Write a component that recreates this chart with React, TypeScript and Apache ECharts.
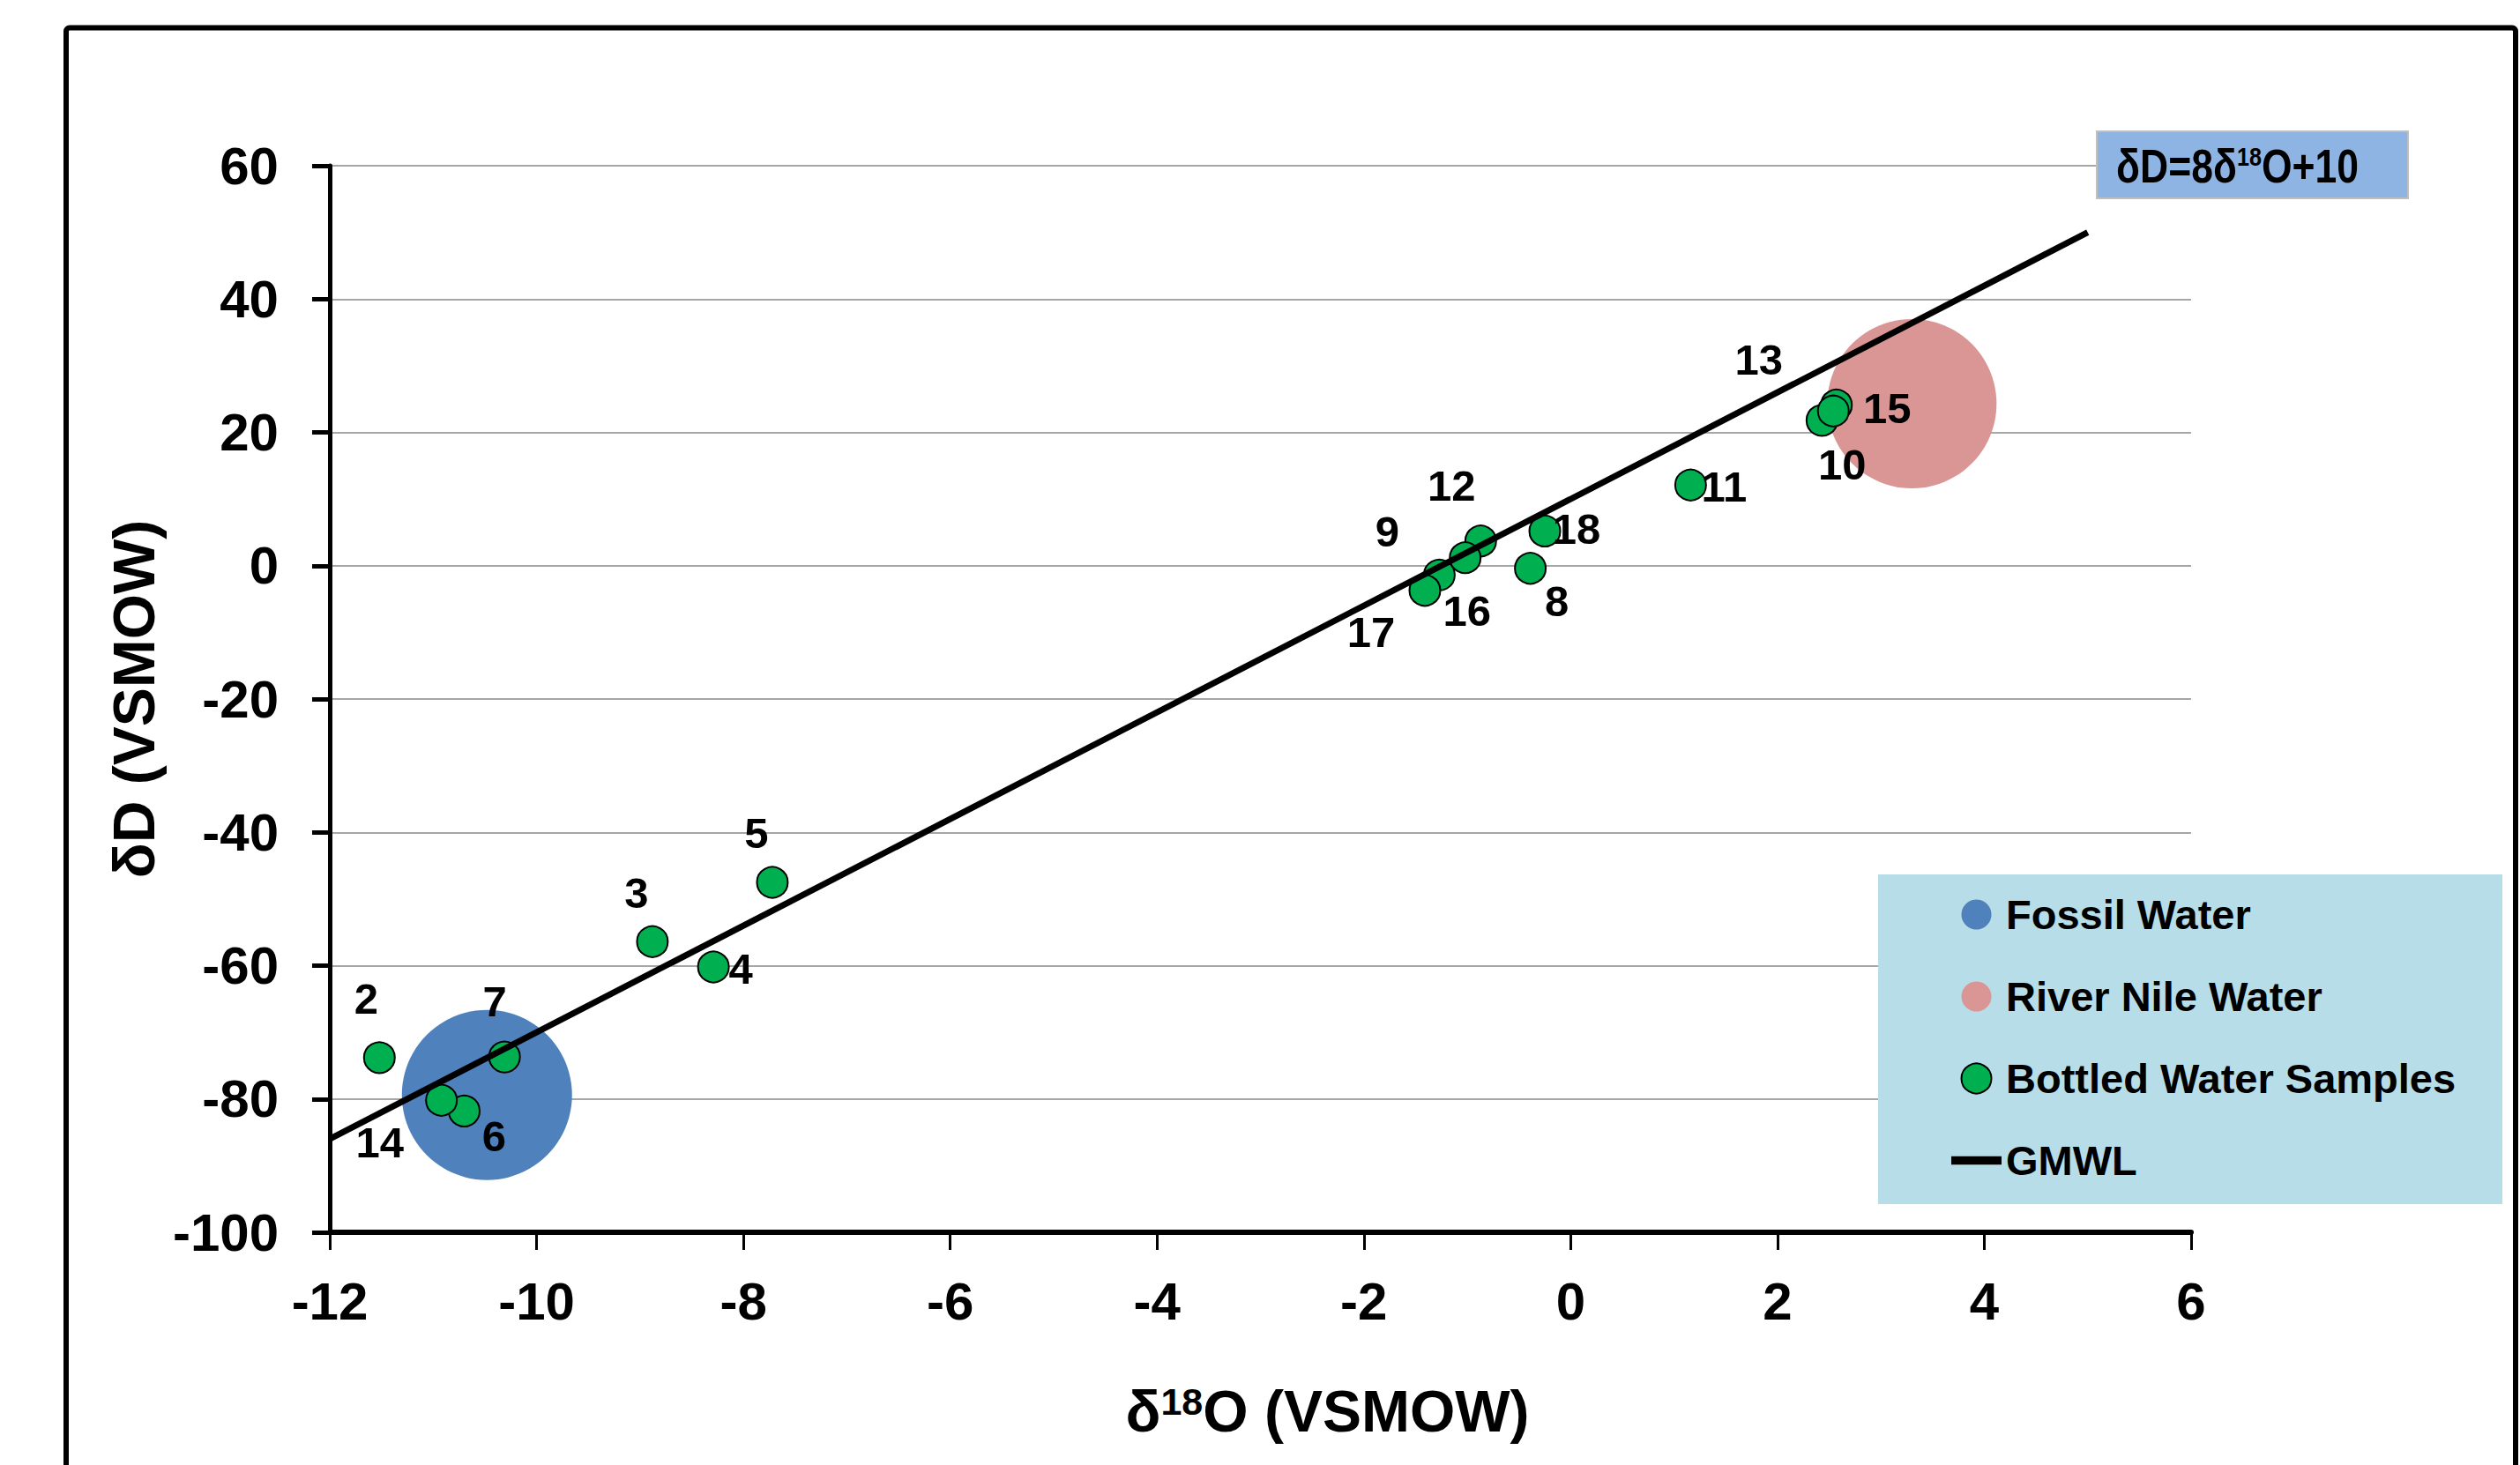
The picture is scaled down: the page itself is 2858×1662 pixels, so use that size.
import React, { useEffect, useRef } from "react";
import * as echarts from "echarts";

const FONT = "'Liberation Sans Narrow', 'Arial Narrow', 'Liberation Sans', Arial, sans-serif";

// Bottled water samples
const sampleIds = ["2", "3", "4", "5", "6", "7", "8", "9", "10", "11", "12", "13", "14", "15", "16", "17", "18"];
const d18OValues = [-11.52, -8.88, -8.29, -7.72, -10.7, -10.31, -0.39, -1.27, 2.43, 1.16, -0.87, 2.57, -10.92, 2.54, -1.02, -1.41, -0.25];
const dDValues = [-73.8, -56.4, -60.2, -47.5, -81.8, -73.7, -0.4, -1.4, 21.8, 12.1, 3.7, 24.1, -80.2, 23.2, 1.2, -3.7, 5.2];

// End members
const fossilWater = [[-10.48, -79.4]];
const nileWater = [[3.3, 24.3]];

// Global meteoric water line end points
const gmwlLine = [[-12, -86], [5, 50]];

// Axes
const xTickValues = [-12, -10, -8, -6, -4, -2, 0, 2, 4, 6];
const yTickValues = [-100, -80, -60, -40, -20, 0, 20, 40, 60];

const legendNames = ["Fossil Water", "River Nile Water", "Bottled Water Samples", "GMWL"];

// label placement (layout only): offset of each sample label from its marker centre
const labelOffsets: Record<string, [number, number]> = {
  "2": [-15, -67],
  "3": [-18, -55],
  "4": [31, 2],
  "5": [-18, -56],
  "6": [34, 29],
  "7": [-11, -63],
  "8": [30, 37],
  "9": [-59, -49],
  "10": [23, 50],
  "11": [38, 2],
  "12": [-33, -63],
  "13": [-88, -51],
  "14": [-70, 48],
  "15": [61, -3],
  "16": [2, 60],
  "17": [-61, 47],
  "18": [36, -2],
};

export default function App() {
  const ref = useRef<HTMLDivElement>(null);
  useEffect(() => {
    if (!ref.current) return;
    const chart = echarts.init(ref.current, undefined, { renderer: "svg" });
    const step = (a: number[]) => a[1] - a[0];
    const bottled = sampleIds.map((id, i) => ({
      name: id,
      value: [d18OValues[i], dDValues[i]],
      label: { offset: labelOffsets[id] },
    }));
    const option: any = {
      animation: false,
      backgroundColor: "#ffffff",
      textStyle: { fontFamily: FONT, fontWeight: "bold", color: "#000" },
      grid: { left: 374, top: 188, width: 2111, height: 1210, containLabel: false },
      xAxis: {
        type: "value",
        min: xTickValues[0],
        max: xTickValues[xTickValues.length - 1],
        interval: step(xTickValues),
        name: "δ{sup|18}O (VSMOW)",
        nameLocation: "middle",
        nameGap: 170,
        nameTextStyle: {
          fontFamily: FONT,
          fontWeight: "bold",
          fontSize: 66,
          color: "#000",
          padding: [0, 0, 0, 152],
          rich: {
            sup: { fontFamily: FONT, fontWeight: "bold", fontSize: 43, color: "#000", verticalAlign: "top" },
          },
        },
        axisLine: { show: true, onZero: false, lineStyle: { color: "#000", width: 6 } },
        axisTick: { show: true, length: 20, lineStyle: { color: "#000", width: 3 } },
        axisLabel: { fontFamily: FONT, fontWeight: "bold", fontSize: 60, color: "#000", margin: 48 },
        splitLine: { show: false },
      },
      yAxis: {
        type: "value",
        min: yTickValues[0],
        max: yTickValues[yTickValues.length - 1],
        interval: step(yTickValues),
        name: "δD (VSMOW)",
        nameLocation: "middle",
        nameRotate: 90,
        nameGap: 172,
        nameTextStyle: { fontFamily: FONT, fontWeight: "bold", fontSize: 66, color: "#000" },
        axisLine: { show: true, onZero: false, lineStyle: { color: "#000", width: 5 } },
        axisTick: { show: true, length: 20, lineStyle: { color: "#000", width: 5 } },
        axisLabel: { fontFamily: FONT, fontWeight: "bold", fontSize: 60, color: "#000", margin: 58 },
        splitLine: { show: true, lineStyle: { color: "#a6a6a6", width: 2 } },
      },
      legend: {
        orient: "vertical",
        left: 2213,
        top: 1014,
        itemWidth: 57,
        itemHeight: 34,
        itemGap: 46,
        selectedMode: false,
        padding: 0,
        textStyle: { fontFamily: FONT, fontWeight: "bold", fontSize: 47, color: "#000" },
        data: [
          { name: legendNames[0], icon: "circle" },
          { name: legendNames[1], icon: "circle" },
          { name: legendNames[2], icon: "circle" },
          { name: legendNames[3], icon: "path://M0 0H6V1H0Z" },
        ],
      },
      graphic: [
        {
          type: "rect",
          z: 3,
          silent: true,
          shape: { x: 2130, y: 992, width: 708, height: 374 },
          style: { fill: "#b7dde8" },
        },
        {
          type: "rect",
          z: 3,
          silent: true,
          shape: { x: 2378, y: 149, width: 353, height: 76 },
          style: { fill: "#8eb4e3", stroke: "#bfbfbf", lineWidth: 2 },
        },
        {
          type: "text",
          z: 5,
          silent: true,
          x: 2400,
          y: 189,
          scaleX: 0.84,
          style: {
            text: "δD=8δ{sup|18}O+10",
            fontFamily: FONT,
            fontWeight: "bold",
            fontSize: 53,
            fill: "#000",
            verticalAlign: "middle",
            rich: {
              sup: { fontFamily: FONT, fontWeight: "bold", fontSize: 30, fill: "#000", verticalAlign: "top" },
            },
          },
        },
        {
          type: "rect",
          z: 10,
          silent: true,
          shape: { x: 75, y: 31.5, width: 2778, height: 1760, r: 4 },
          style: { fill: "none", stroke: "#000", lineWidth: 6 },
        },
      ],
      series: [
        {
          name: legendNames[0],
          type: "scatter",
          data: fossilWater,
          symbolSize: 193,
          itemStyle: { color: "#4f81bd", opacity: 1 },
          z: 1,
        },
        {
          name: legendNames[1],
          type: "scatter",
          data: nileWater,
          symbolSize: 192,
          itemStyle: { color: "#d99694", opacity: 1 },
          z: 1,
        },
        {
          name: legendNames[2],
          type: "scatter",
          data: bottled,
          symbolSize: 35,
          itemStyle: { color: "#00b050", borderColor: "#000", borderWidth: 2, opacity: 1 },
          label: {
            show: true,
            position: "inside",
            formatter: "{b}",
            color: "#000",
            fontFamily: FONT,
            fontWeight: "bold",
            fontSize: 49,
          },
          z: 2,
        },
        {
          name: legendNames[3],
          type: "line",
          data: gmwlLine,
          symbol: "none",
          showSymbol: false,
          lineStyle: { color: "#000", width: 7 },
          itemStyle: { color: "#000" },
          z: 3,
        },
      ],
    };
    chart.setOption(option);
    return () => chart.dispose();
  }, []);
  return (
    <div
      ref={ref}
      style={{ position: "fixed", left: 0, top: 0, width: 2858, height: 1662, background: "#fff" }}
    />
  );
}
